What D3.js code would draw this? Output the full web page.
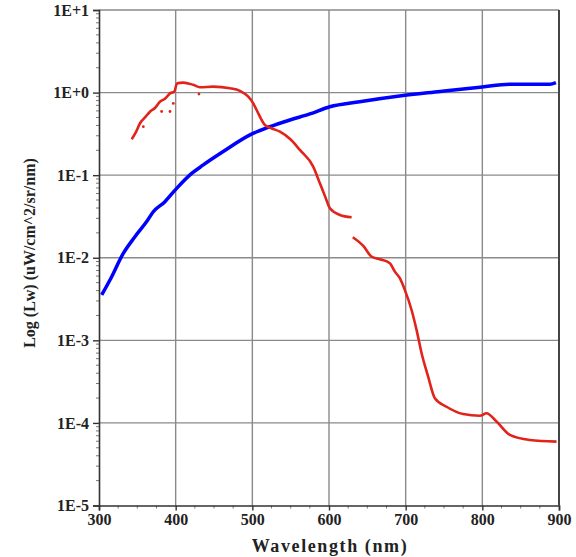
<!DOCTYPE html>
<html>
<head>
<meta charset="utf-8">
<script src="https://cdn.jsdelivr.net/npm/d3@7"></script>
<style>
  body { margin: 0; background: #fff; }
  text { font-family: "Liberation Serif", "DejaVu Serif", serif; font-weight: bold; }
</style>
</head>
<body>
<script>
// blue curve (wavelength nm, Lw)
const blueNm = [303.5, 314.3, 331.7, 346.9, 362.2, 370.8, 386, 401.3, 420.9, 436, 462, 497, 523, 549, 575, 601, 640, 692, 745, 797, 836, 888, 896];
const blueLw = [0.00355, 0.00538, 0.0113, 0.018, 0.0274, 0.0361, 0.0478, 0.0693, 0.105, 0.133, 0.193, 0.307, 0.386, 0.466, 0.551, 0.674, 0.776, 0.91, 1.03, 1.16, 1.26, 1.26, 1.32];

// red curve, first segment
const redNm1 = [342.6, 348, 353.5, 360, 366.5, 373, 379.5, 386, 392.6, 398, 402, 409.9, 422.9, 431.7, 449, 470.8, 483.8, 494.7, 501.2, 505.6, 516.4, 525, 536, 550, 562, 579.4, 588.1, 595, 601.2, 614.2, 629.5];
const redLw1 = [0.272, 0.33, 0.425, 0.50, 0.587, 0.65, 0.776, 0.84, 0.98, 1.02, 1.30, 1.32, 1.24, 1.16, 1.18, 1.13, 1.05, 0.891, 0.741, 0.615, 0.405, 0.37, 0.336, 0.27, 0.202, 0.127, 0.0798, 0.055, 0.0397, 0.033, 0.0309];

// red curve, second segment
const redNm2 = [631, 645, 655.5, 666.4, 679.4, 685.9, 692.4, 698.9, 707.7, 714.2, 720.7, 729.3, 738.1, 753.3, 775, 796.7, 805.5, 818.5, 835.9, 862, 896.8];
const redLw2 = [0.0177, 0.0138, 0.0103, 0.00959, 0.00857, 0.00679, 0.00565, 0.00408, 0.00233, 0.00134, 0.000703, 0.000364, 0.000199, 0.000157, 0.000128, 0.000122, 0.000131, 0.000104, 0.0000716, 0.0000622, 0.0000594];

// scattered red outliers near 400 nm
const redDotNm = [357.8, 381.7, 392.6, 396.9, 430.4];
const redDotLw = [0.386, 0.59, 0.59, 0.74, 0.96];

const xTicks = [300, 400, 500, 600, 700, 800, 900];
const yTicks = [1e1, 1e0, 1e-1, 1e-2, 1e-3, 1e-4, 1e-5];
const yTickLabels = ["1E+1", "1E+0", "1E-1", "1E-2", "1E-3", "1E-4", "1E-5"];

const width = 576, height = 557;
const plotL = 99, plotR = 559, plotT = 10, plotB = 505.5;

const svg = d3.select("body").append("svg")
    .attr("width", width)
    .attr("height", height);

const x = d3.scaleLinear().domain([300, 900]).range([plotL, plotR]);
const y = d3.scaleLog().domain([1e-5, 1e1]).range([plotB, plotT]);

// grid
svg.append("g").selectAll("line").data(xTicks.slice(1, -1)).join("line")
    .attr("x1", d => x(d)).attr("x2", d => x(d))
    .attr("y1", plotT).attr("y2", plotB)
    .attr("stroke", "#8a8a8a").attr("stroke-width", 1.4);
svg.append("g").selectAll("line").data(yTicks.slice(1, -1)).join("line")
    .attr("x1", plotL).attr("x2", plotR)
    .attr("y1", d => y(d)).attr("y2", d => y(d))
    .attr("stroke", "#8a8a8a").attr("stroke-width", 1.4);

// frame
svg.append("line").attr("x1", plotL).attr("x2", plotR).attr("y1", plotT).attr("y2", plotT)
    .attr("stroke", "#8a8a8a").attr("stroke-width", 1.4);
svg.append("line").attr("x1", plotR).attr("x2", plotR).attr("y1", plotT).attr("y2", plotB)
    .attr("stroke", "#444").attr("stroke-width", 2);

// y axis
const yMinor = [];
for (let e = -5; e < 1; e++) for (let m = 2; m <= 9; m++) yMinor.push(m * Math.pow(10, e));
svg.append("g").selectAll("line").data(yMinor).join("line")
    .attr("x1", plotL - 3).attr("x2", plotL)
    .attr("y1", d => y(d)).attr("y2", d => y(d))
    .attr("stroke", "#555").attr("stroke-width", 0.8);

const yAxis = svg.append("g")
    .attr("transform", `translate(${plotL},0)`)
    .call(d3.axisLeft(y).tickValues(yTicks).tickFormat((d, i) => yTickLabels[i]).tickSize(6).tickPadding(4));
yAxis.select(".domain").attr("stroke", "#333").attr("stroke-width", 1.6);
yAxis.selectAll(".tick line").attr("stroke", "#333").attr("stroke-width", 1.4);
yAxis.selectAll(".tick text").attr("font-size", 16).attr("font-family", null).attr("fill", "#222");

// x axis
const xMinor = d3.range(300, 901, 25).filter(d => d % 100 !== 0);
svg.append("g").selectAll("line").data(xMinor).join("line")
    .attr("x1", d => x(d)).attr("x2", d => x(d))
    .attr("y1", plotB).attr("y2", plotB + 3)
    .attr("stroke", "#555").attr("stroke-width", 0.8);

const xAxis = svg.append("g")
    .attr("transform", `translate(0,${plotB})`)
    .call(d3.axisBottom(x).tickValues(xTicks).tickFormat(d3.format("d")).tickSize(5).tickPadding(3));
xAxis.select(".domain").attr("stroke", "#333").attr("stroke-width", 1.6);
xAxis.selectAll(".tick line").attr("stroke", "#333").attr("stroke-width", 1.4);
xAxis.selectAll(".tick text").attr("font-size", 16).attr("font-family", null).attr("fill", "#222");

// titles
svg.append("text")
    .attr("x", (plotL + plotR) / 2 + 1)
    .attr("y", 552)
    .attr("text-anchor", "middle")
    .attr("font-size", 18)
    .attr("letter-spacing", 1.6)
    .attr("fill", "#222")
    .text("Wavelength (nm)");

svg.append("text")
    .attr("transform", "translate(35,253) rotate(-90)")
    .attr("text-anchor", "middle")
    .attr("font-size", 16)
    .attr("fill", "#222")
    .text("Log (Lw) (uW/cm^2/sr/nm)");

// curves
const line = d3.line().x(d => x(d[0])).y(d => y(d[1])).curve(d3.curveMonotoneX);

svg.append("path")
    .datum(blueNm.map((d, i) => [d, blueLw[i]]))
    .attr("d", line)
    .attr("fill", "none").attr("stroke", "#0000ff").attr("stroke-width", 3.5)
    .attr("stroke-linejoin", "round");

[[redNm1, redLw1], [redNm2, redLw2]].forEach(([nm, lw]) => {
    svg.append("path")
        .datum(nm.map((d, i) => [d, lw[i]]))
        .attr("d", line)
        .attr("fill", "none").attr("stroke", "#e2231a").attr("stroke-width", 2.6)
        .attr("stroke-linejoin", "round");
});

svg.append("g").selectAll("circle").data(redDotNm).join("circle")
    .attr("cx", d => x(d))
    .attr("cy", (d, i) => y(redDotLw[i]))
    .attr("r", 1.4)
    .attr("fill", "#e2231a");
</script>
</body>
</html>
